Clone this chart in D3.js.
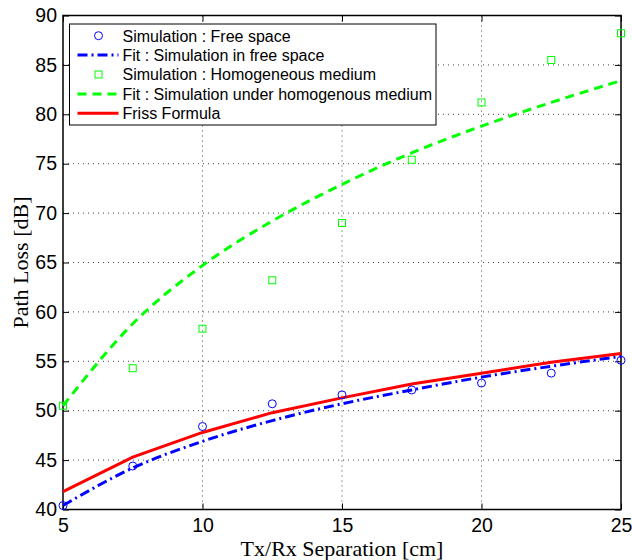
<!DOCTYPE html>
<html>
<head>
<meta charset="utf-8">
<script src="https://cdn.jsdelivr.net/npm/d3@7"></script>
<style>
  body { margin: 0; background: #fff; }
  svg { display: block; }
  .tick text { font-family: "Liberation Sans", Arial, sans-serif; font-size: 19.5px; fill: #000; }
</style>
</head>
<body>
<svg width="632" height="560"></svg>
<script>
// separations (cm)
const dist = [5, 7.5, 10, 12.5, 15, 17.5, 20, 22.5, 25];

const simFree = [40.4, 44.4, 48.4, 50.7, 51.6, 52.1, 52.8, 53.8, 55.1];
const fitFree = [40.4, 44.2, 46.9, 49.0, 50.7, 52.1, 53.4, 54.5, 55.5];
const simHomo = [50.5, 54.3, 58.3, 63.2, 69.0, 75.4, 81.2, 85.5, 88.2];
const fitHomo = [50.5, 58.8, 64.7, 69.2, 72.9, 76.1, 78.8, 81.2, 83.4];
const friss   = [41.8, 45.3, 47.8, 49.8, 51.3, 52.7, 53.8, 54.9, 55.8];

const xTicks = [5, 10, 15, 20, 25];
const yTicks = [40, 45, 50, 55, 60, 65, 70, 75, 80, 85, 90];

const legendLabels = [
  "Simulation : Free space",
  "Fit : Simulation in free space",
  "Simulation : Homogeneous medium",
  "Fit : Simulation under homogenous medium",
  "Friss Formula"
];

const svg = d3.select("svg");
const m = { left: 63, right: 621, top: 15.5, bottom: 509.5 };

const x = d3.scaleLinear().domain([5, 25]).range([m.left, m.right]);
const y = d3.scaleLinear().domain([40, 90]).range([m.bottom, m.top]);

// dotted grid
const grid = svg.append("g");
grid.selectAll(".gx")
  .data(xTicks.slice(1, -1))
  .enter().append("line")
  .attr("x1", d => x(d)).attr("x2", d => x(d))
  .attr("y1", m.top).attr("y2", m.bottom)
  .attr("stroke", "#444").attr("stroke-width", 1).attr("stroke-dasharray", "1,4");
grid.selectAll(".gy")
  .data(yTicks.slice(1, -1))
  .enter().append("line")
  .attr("x1", m.left).attr("x2", m.right)
  .attr("y1", d => y(d)).attr("y2", d => y(d))
  .attr("stroke", "#444").attr("stroke-width", 1).attr("stroke-dasharray", "1,4");

// axes, ticks pointing in
const tl = 6;
svg.append("g")
  .attr("transform", `translate(0,${m.bottom})`)
  .call(d3.axisBottom(x).tickValues(xTicks).tickSizeInner(-tl).tickSizeOuter(0).tickPadding(9))
  .call(g => g.select(".domain").remove());
svg.append("g")
  .attr("transform", `translate(0,${m.top})`)
  .call(d3.axisTop(x).tickValues(xTicks).tickSizeInner(-tl).tickSizeOuter(0).tickFormat(""))
  .call(g => g.select(".domain").remove());
svg.append("g")
  .attr("transform", `translate(${m.left},0)`)
  .call(d3.axisLeft(y).tickValues(yTicks).tickSizeInner(-tl).tickSizeOuter(0).tickPadding(6))
  .call(g => g.select(".domain").remove());
svg.append("g")
  .attr("transform", `translate(${m.right},0)`)
  .call(d3.axisRight(y).tickValues(yTicks).tickSizeInner(-tl).tickSizeOuter(0).tickFormat(""))
  .call(g => g.select(".domain").remove());

svg.selectAll(".tick line").attr("stroke", "#000");

svg.append("rect")
  .attr("x", m.left).attr("y", m.top)
  .attr("width", m.right - m.left).attr("height", m.bottom - m.top)
  .attr("fill", "none").attr("stroke", "#000").attr("stroke-width", 1.5);

// lines
const lineOf = (vals, curve) => d3.line()
  .x((d, i) => x(dist[i]))
  .y(d => y(d))
  .curve(curve)(vals);

svg.append("path")
  .attr("d", lineOf(fitHomo, d3.curveMonotoneX))
  .attr("fill", "none").attr("stroke", "#00ff00").attr("stroke-width", 3)
  .attr("stroke-dasharray", "9,6");
svg.append("path")
  .attr("d", lineOf(fitFree, d3.curveMonotoneX))
  .attr("fill", "none").attr("stroke", "#0000ff").attr("stroke-width", 3)
  .attr("stroke-dasharray", "10,4,2,4");
svg.append("path")
  .attr("d", lineOf(friss, d3.curveLinear))
  .attr("fill", "none").attr("stroke", "#ff0000").attr("stroke-width", 3);

// markers
svg.selectAll(".free")
  .data(simFree).enter().append("circle")
  .attr("cx", (d, i) => x(dist[i])).attr("cy", d => y(d))
  .attr("r", 4).attr("fill", "none").attr("stroke", "#0000ff").attr("stroke-width", 1);
svg.selectAll(".homo")
  .data(simHomo).enter().append("rect")
  .attr("x", (d, i) => x(dist[i]) - 3.5).attr("y", d => y(d) - 3.5)
  .attr("width", 7).attr("height", 7)
  .attr("fill", "none").attr("stroke", "#00ff00").attr("stroke-width", 1);

// axis titles
svg.append("text")
  .attr("x", (m.left + m.right) / 2).attr("y", 555.5)
  .attr("text-anchor", "middle")
  .style("font-family", "'Liberation Serif', 'Times New Roman', serif").style("font-size", "22px")
  .text("Tx/Rx Separation [cm]");
svg.append("text")
  .attr("transform", `translate(28,${(m.top + m.bottom) / 2}) rotate(-90)`)
  .attr("text-anchor", "middle")
  .style("font-family", "'Liberation Serif', 'Times New Roman', serif").style("font-size", "22px")
  .text("Path Loss [dB]");

// legend
const lg = svg.append("g").attr("transform", "translate(69.5,24)");
lg.append("rect")
  .attr("width", 366.5).attr("height", 101)
  .attr("fill", "#fff").attr("stroke", "#000").attr("stroke-width", 1);
const rowY = i => 11.7 + i * 19.4;
const kinds = ["circle", "dashdot", "square", "dash", "solid"];
kinds.forEach((k, i) => {
  const yy = rowY(i);
  if (k === "circle") {
    lg.append("circle").attr("cx", 29).attr("cy", yy).attr("r", 4)
      .attr("fill", "none").attr("stroke", "#0000ff");
  } else if (k === "square") {
    lg.append("rect").attr("x", 25.5).attr("y", yy - 3.5).attr("width", 7).attr("height", 7)
      .attr("fill", "none").attr("stroke", "#00ff00");
  } else {
    const st = { dashdot: ["#0000ff", "10,4,2,4"], dash: ["#00ff00", "9,6"], solid: ["#ff0000", null] }[k];
    lg.append("line").attr("x1", 8).attr("x2", 49).attr("y1", yy).attr("y2", yy)
      .attr("stroke", st[0]).attr("stroke-width", 3)
      .attr("stroke-dasharray", st[1]);
  }
  lg.append("text")
    .attr("x", 53).attr("y", yy + 5.8)
    .style("font-family", "'Liberation Sans', Arial, sans-serif").style("font-size", "16px")
    .text(legendLabels[i]);
});
</script>
</body>
</html>
